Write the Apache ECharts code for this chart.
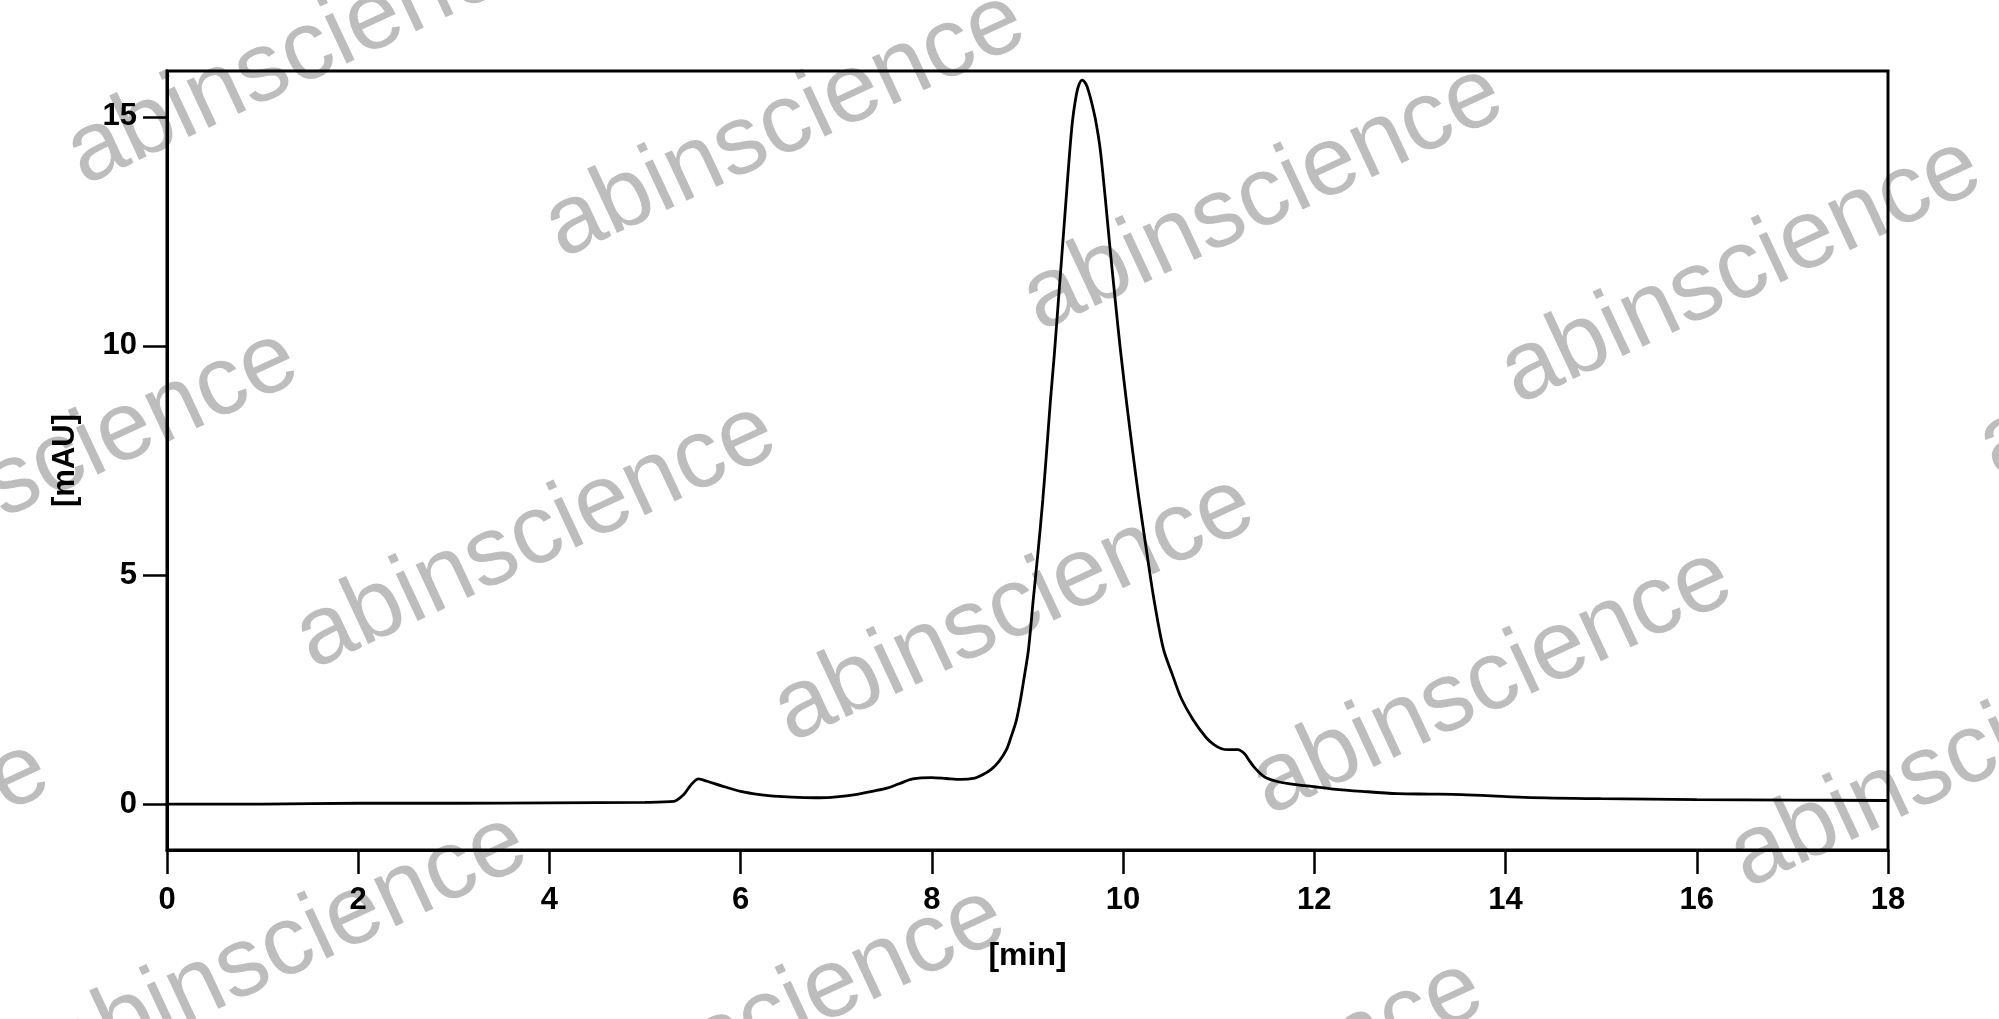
<!DOCTYPE html>
<html>
<head>
<meta charset="utf-8">
<script src="https://cdn.jsdelivr.net/npm/echarts@6/dist/echarts.min.js"></script>
<style>
html,body{margin:0;padding:0;background:#fff;}
#chart{width:1999px;height:1019px;}
</style>
</head>
<body>
<div id="chart"></div>
<script>
// Retention time (min)
const time = [0, 1, 2, 3, 4, 5, 5.3, 5.4, 5.48, 5.56, 5.65, 5.8, 6.0, 6.2, 6.4, 6.6, 6.83, 7.0, 7.2, 7.4, 7.53, 7.65, 7.8, 8.0, 8.15, 8.3, 8.45, 8.53, 8.62, 8.7, 8.78, 8.83, 8.88, 8.92, 8.96, 9.01, 9.06, 9.11, 9.16, 9.2, 9.24, 9.28, 9.32, 9.36, 9.40, 9.44, 9.47, 9.50, 9.53, 9.57, 9.61, 9.64, 9.67, 9.71, 9.76, 9.81, 9.86, 9.92, 9.97, 10.04, 10.10, 10.16, 10.24, 10.32, 10.42, 10.52, 10.61, 10.73, 10.87, 10.95, 11.03, 11.1, 11.2, 11.27, 11.32, 11.37, 11.44, 11.5, 11.6, 11.73, 12.0, 12.2, 12.5, 12.87, 13.2, 13.54, 14.2, 15, 16, 17, 18];
// Absorbance (mAU)
const absorbance = [0.0, 0.0, 0.02, 0.02, 0.03, 0.04, 0.06, 0.2, 0.42, 0.55, 0.5, 0.4, 0.28, 0.21, 0.17, 0.15, 0.14, 0.16, 0.21, 0.29, 0.35, 0.44, 0.55, 0.58, 0.56, 0.54, 0.57, 0.64, 0.76, 0.93, 1.19, 1.48, 1.8, 2.2, 2.7, 3.37, 4.46, 5.5, 6.64, 7.7, 8.81, 9.8, 10.9, 12.0, 13.1, 14.2, 14.9, 15.35, 15.65, 15.8, 15.72, 15.55, 15.32, 14.95, 14.3, 13.3, 12.2, 10.95, 9.95, 8.7, 7.7, 6.75, 5.6, 4.5, 3.4, 2.8, 2.3, 1.85, 1.45, 1.3, 1.21, 1.19, 1.19, 1.1, 0.95, 0.81, 0.66, 0.57, 0.5, 0.45, 0.38, 0.33, 0.28, 0.23, 0.22, 0.21, 0.15, 0.12, 0.1, 0.09, 0.08];
// Tick labels
const yTicks = [0, 5, 10, 15];
const xTitle = '[min]';
const yTitle = '[mAU]';
const watermarkText = 'abinscience';

const seriesData = time.map((t, i) => [t, absorbance[i]]);

// Watermark lattice (decoration only)
const wm = [];
const origin = [307, 52], stepA = [478, 73], stepB = [-249, 411];
for (let r = -1; r <= 3; r++) {
  for (let c = -2; c <= 5; c++) {
    const x = origin[0] + c * stepA[0] + r * stepB[0];
    const y = origin[1] + c * stepA[1] + r * stepB[1];
    if (x < -400 || x > 2400 || y < -200 || y > 1250) continue;
    wm.push({
      type: 'text', x: x, y: y, rotation: 25 * Math.PI / 180, z: -10, silent: true,
      style: { text: watermarkText, font: '98px "Liberation Sans", Arial, sans-serif',
        fill: '#bdbdbd', textAlign: 'center', textVerticalAlign: 'middle' }
    });
  }
}

const chart = echarts.init(document.getElementById('chart'), null, { renderer: 'canvas' });
const labelFont = { fontFamily: '"Liberation Sans", Arial, sans-serif', fontWeight: 'bold', fontSize: 31, color: '#000' };
chart.setOption({
  animation: false,
  backgroundColor: '#fff',
  graphic: wm,
  grid: { left: 167, right: 111, top: 71, bottom: 169, show: true, borderColor: '#000', borderWidth: 3, backgroundColor: 'transparent' },
  xAxis: {
    type: 'value', min: 0, max: 18, interval: 2,
    name: xTitle, nameLocation: 'middle', nameGap: 90,
    nameTextStyle: Object.assign({}, labelFont, { fontSize: 32 }),
    axisLine: { show: true, onZero: false, lineStyle: { color: '#000', width: 3 } },
    axisTick: { show: true, inside: false, length: 24, lineStyle: { color: '#000', width: 2.5 } },
    axisLabel: Object.assign({ margin: 35 }, labelFont),
    splitLine: { show: false }
  },
  yAxis: {
    type: 'value', min: -1, max: 16,
    name: yTitle, nameLocation: 'middle', nameGap: 86,
    nameTextStyle: Object.assign({}, labelFont, { fontSize: 31 }),
    axisLine: { show: true, onZero: false, lineStyle: { color: '#000', width: 3 } },
    axisTick: { show: true, inside: false, length: 24, customValues: yTicks, lineStyle: { color: '#000', width: 2.5 } },
    axisLabel: Object.assign({ margin: 30, customValues: yTicks }, labelFont),
    splitLine: { show: false }
  },
  series: [{
    type: 'line', data: seriesData, showSymbol: false, smooth: 0.3,
    lineStyle: { color: '#000', width: 2.8 }, z: 5
  }]
});
</script>
</body>
</html>
